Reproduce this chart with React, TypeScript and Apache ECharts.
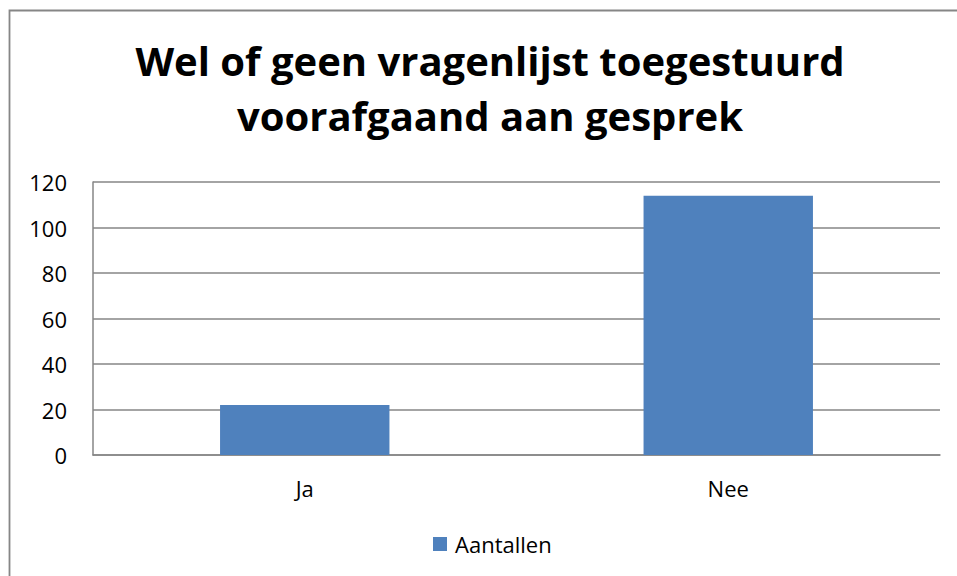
import React, { useEffect, useRef } from "react";
import * as echarts from "echarts";

const titleText = "Wel of geen vragenlijst toegestuurd\nvoorafgaand aan gesprek";
const categories = ["Ja", "Nee"];
const seriesName = "Aantallen";
const values = [22, 114];
const yMin = 0;
const yMax = 120;
const yInterval = 20;

export default function App() {
  const ref = useRef<HTMLDivElement>(null);
  useEffect(() => {
    if (!ref.current) return;
    const chart = echarts.init(ref.current, null, { renderer: "svg" });
    const font = "'Open Sans', sans-serif";
    chart.setOption({
      animation: false,
      backgroundColor: "#ffffff",
      title: {
        text: titleText,
        left: 490,
        top: 33,
        padding: 0,
        textAlign: "center",
        textStyle: {
          fontFamily: font,
          fontWeight: "bold",
          fontSize: 40,
          lineHeight: 55,
          color: "#000000",
        },
      },
      graphic: [
        {
          type: "rect",
          shape: { x: 9.5, y: 10.5, width: 1100, height: 1100 },
          style: { fill: "none", stroke: "#868686", lineWidth: 1.8 },
          silent: true,
        },
      ],
      legend: {
        data: [seriesName],
        left: 433,
        top: 533,
        padding: 0,
        icon: "rect",
        itemWidth: 14,
        itemHeight: 14,
        textStyle: {
          fontFamily: font,
          fontSize: 22,
          color: "#000000",
          padding: [0, 0, 0, 3],
        },
      },
      grid: { left: 93, right: 17, top: 182, bottom: 121, containLabel: false },
      xAxis: {
        type: "category",
        data: categories,
        axisLine: { show: true, lineStyle: { color: "#868686", width: 1.5 } },
        axisTick: { show: false },
        axisLabel: { fontFamily: font, fontSize: 22, color: "#000000", margin: 22 },
      },
      yAxis: {
        type: "value",
        min: yMin,
        max: yMax,
        interval: yInterval,
        axisLine: { show: true, lineStyle: { color: "#868686", width: 1.5 } },
        axisTick: { show: false },
        splitLine: { show: true, lineStyle: { color: "#868686", width: 1.5 } },
        axisLabel: { fontFamily: font, fontSize: 22, color: "#000000", margin: 26 },
      },
      series: [
        {
          name: seriesName,
          type: "bar",
          data: values,
          barCategoryGap: "60%",
          itemStyle: { color: "#4F81BD" },
        },
      ],
    });
    return () => chart.dispose();
  }, []);
  return (
    <div
      ref={ref}
      style={{ position: "fixed", left: 0, top: 0, width: 957, height: 576 }}
    />
  );
}
